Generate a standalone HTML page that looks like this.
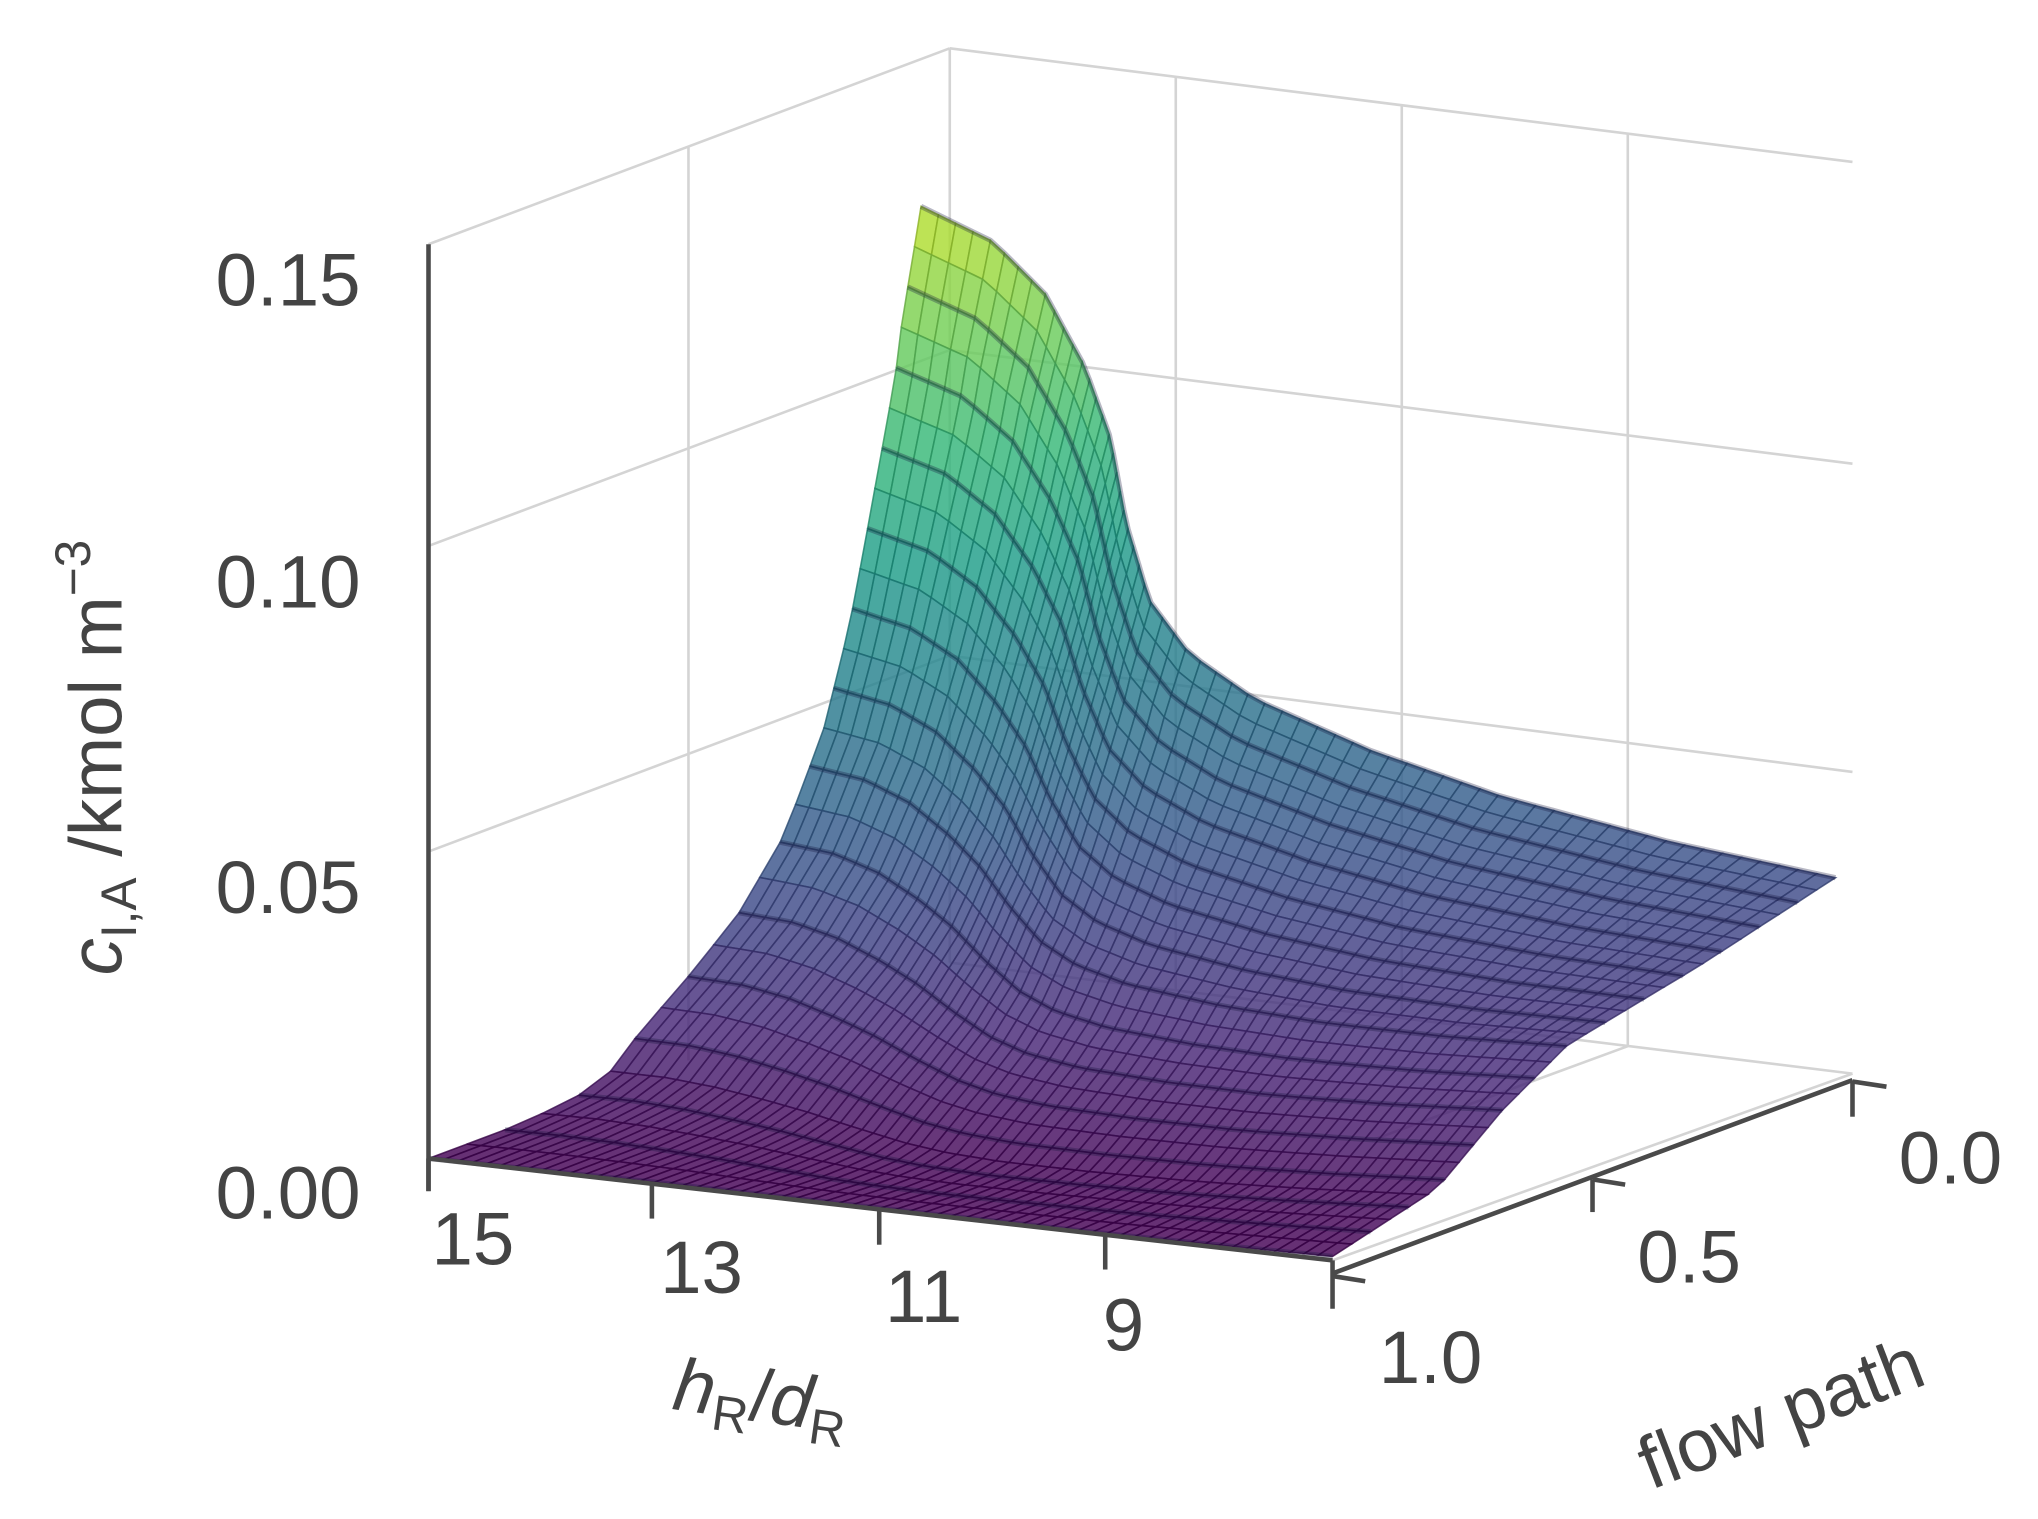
<!DOCTYPE html>
<html><head><meta charset="utf-8"><style>
html,body{margin:0;padding:0;background:#fff;}
svg{display:block;}
text{font-family:"Liberation Sans","DejaVu Sans",sans-serif;fill:#444;}
</style></head><body>
<svg id="s" width="2038" height="1519" viewBox="0 0 1560 1163" preserveAspectRatio="none" xmlns="http://www.w3.org/2000/svg">
<rect width="1560" height="1163" fill="#fff"/>
<g stroke="#d4d4d4" stroke-width="2" fill="none">
<line x1="328" y1="187" x2="727" y2="37"/>
<line x1="328" y1="418" x2="727" y2="268"/>
<line x1="328" y1="652" x2="727" y2="502"/>
<line x1="527" y1="112" x2="527" y2="812"/>
<line x1="727" y1="37" x2="727" y2="737"/>
<line x1="727" y1="37" x2="1418" y2="124"/>
<line x1="727" y1="268" x2="1418" y2="355"/>
<line x1="727" y1="502" x2="1418" y2="591"/>
<line x1="727" y1="737" x2="1418" y2="822"/>
<line x1="900" y1="59" x2="900" y2="758"/>
<line x1="1073" y1="81" x2="1073" y2="780"/>
<line x1="1246" y1="103" x2="1246" y2="801"/>
<line x1="1246" y1="801" x2="1050" y2="873"/>
<line x1="1418" y1="822" x2="1020" y2="965"/>
</g>
<g id="surf"></g>
<g stroke="#4a4a4a" stroke-width="3.5" fill="none">
<line x1="328" y1="187" x2="328" y2="912"/>
<line x1="328" y1="887" x2="1020" y2="965"/>
<line x1="1020" y1="975" x2="1418" y2="827"/>
<line x1="328" y1="887" x2="328" y2="912"/>
<line x1="499" y1="906" x2="499" y2="933"/>
<line x1="673" y1="926" x2="673" y2="953"/>
<line x1="846" y1="945" x2="846" y2="972"/>
<line x1="1020" y1="965" x2="1020" y2="1002"/>
<line x1="1020" y1="977" x2="1045" y2="981"/>
<line x1="1219" y1="903" x2="1244" y2="907"/>
<line x1="1219" y1="903" x2="1219" y2="928"/>
<line x1="1418" y1="828" x2="1444" y2="832"/>
<line x1="1418" y1="828" x2="1418" y2="855"/>
</g>
<g font-size="57">
<text x="276" y="234" text-anchor="end">0.15</text>
<text x="276" y="465" text-anchor="end">0.10</text>
<text x="276" y="699" text-anchor="end">0.05</text>
<text x="276" y="933" text-anchor="end">0.00</text>
<text x="362" y="968" text-anchor="middle">15</text>
<text x="537" y="990" text-anchor="middle">13</text>
<text x="707" y="1012" text-anchor="middle">11</text>
<text x="860" y="1034" text-anchor="middle">9</text>
<text x="1493" y="906" text-anchor="middle">0.0</text>
<text x="1293" y="982" text-anchor="middle">0.5</text>
<text x="1095" y="1059" text-anchor="middle">1.0</text>
<text transform="translate(580,1088) rotate(8)" text-anchor="middle" font-style="italic">h<tspan font-size="38" font-style="normal" dy="11">R</tspan><tspan dy="-11" font-style="normal">/</tspan>d<tspan font-size="38" font-style="normal" dy="11">R</tspan></text>
<text transform="translate(1370,1100) rotate(-21)" text-anchor="middle">flow path</text>
<text transform="translate(93,580) rotate(-90)" text-anchor="middle"><tspan font-style="italic">c</tspan><tspan font-size="38" dy="11">I,A</tspan><tspan dy="-11"> /kmol m</tspan><tspan font-size="38" dy="-24">−3</tspan></text>
</g>
</svg>
<script>
(function(){
function poly(pts){var L=[0];for(var i=1;i<pts.length;i++){L.push(L[i-1]+Math.hypot(pts[i][0]-pts[i-1][0],pts[i][1]-pts[i-1][1]));}
return function(t){var dd=t*L[L.length-1];for(var i=1;i<pts.length;i++){if(dd<=L[i]||i==pts.length-1){var f=(dd-L[i-1])/(L[i]-L[i-1]||1);f=Math.max(0,Math.min(1,f));return [pts[i-1][0]+f*(pts[i][0]-pts[i-1][0]),pts[i-1][1]+f*(pts[i][1]-pts[i-1][1])];}}};}
var Bk=poly([[705,158],[760,185],[800,225],[830,280],[850,335],[862,400],[880,460],[910,500],[960,535],[1050,575],[1150,610],[1280,645],[1405,672]]);
var Fr=poly([[328,887],[500,905],[700,928],[860,946],[1020,962]]);
var Lf=poly([[705,158],[690,250],[685,290],[665,400],[650,480],[630,560],[600,640],[565,700],[525,750],[490,790],[460,830],[400,860],[328,887]]);
var Rt=poly([[1405,672],[1300,740],[1200,800],[1150,850],[1100,910],[1020,962]]);
var c00=[705,158],c10=[1405,672],c01=[328,887],c11=[1020,962];
function P(u,v){var pb=Bk(u),pf=Fr(u),pl=Lf(v),pr=Rt(v);var o=[];for(var k=0;k<2;k++){o[k]=(1-v)*pb[k]+v*pf[k]+(1-u)*pl[k]+u*pr[k]-((1-u)*(1-v)*c00[k]+u*(1-v)*c10[k]+(1-u)*v*c01[k]+u*v*c11[k]);}return [o[0].toFixed(1),o[1].toFixed(1)];}
function floorY(u,v){var yb=737+u*(822-737),yf=887+u*(962-887);return (1-v)*yb+v*yf;}
var V=[[68,1,84],[72,40,120],[62,74,137],[49,104,142],[38,130,142],[31,158,137],[53,183,121],[109,205,89],[180,222,44],[253,231,37]];
function col(t){t=Math.max(0,Math.min(1,t))*(V.length-1);var i=Math.min(Math.floor(t),V.length-2),f=t-i;return [0,1,2].map(function(k){return Math.round(V[i][k]+f*(V[i+1][k]-V[i][k]));});}
var NU=64,NV=28,h='';
for(var j=0;j<NV;j++){for(var i=0;i<NU;i++){var u0=i/NU,u1=(i+1)/NU,v0=j/NV,v1=(j+1)/NV;
var qa=P(u0,v0),qb=P(u1,v0),qc=P(u1,v1),qd=P(u0,v1);
var um=(u0+u1)/2,vm=(v0+v1)/2,pm=P(um,vm);var t=(floorY(um,vm)-pm[1])/640;
var cc=col(t);var fill='rgb('+cc.join(',')+')';var dk='rgb('+cc.map(function(x){return Math.round(x*0.8);}).join(',')+')';
h+='<polygon points="'+qa.join(',')+' '+qb.join(',')+' '+qc.join(',')+' '+qd.join(',')+'" fill="'+fill+'" fill-opacity="0.82" stroke="'+dk+'" stroke-opacity="0.8" stroke-width="1.2"/>';}}
for(var j2=0;j2<=NV;j2+=2){var p=[];for(var i2=0;i2<=NU;i2++){p.push(P(i2/NU,j2/NV).join(','));}h+='<polyline points="'+p.join(' ')+'" fill="none" stroke="rgba(20,20,60,0.3)" stroke-width="4"/>';}
document.getElementById('surf').innerHTML=h;
})();
</script>
</body></html>
